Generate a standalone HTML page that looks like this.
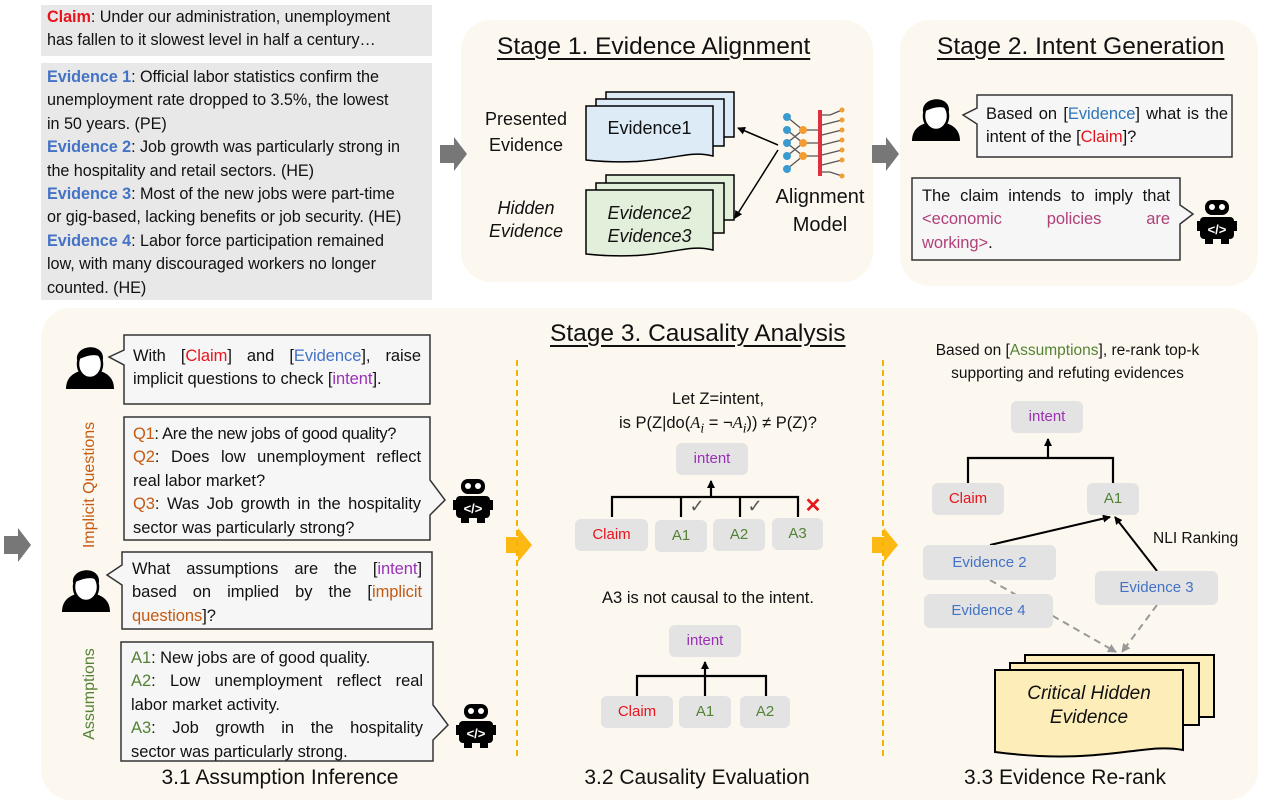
<!DOCTYPE html>
<html><head><meta charset="utf-8"><style>
body{margin:0;width:1274px;height:803px;background:#fff;position:relative;overflow:hidden;font-family:"Liberation Sans",sans-serif;color:#111}
.a{position:absolute}
.t{font-size:16.5px;line-height:23.4px;letter-spacing:-0.05px}
.t>div{white-space:nowrap}
.t>div.J{text-align:justify;text-align-last:justify;white-space:normal}
.r{color:#e8141c}.b{color:#4472c4}.p{color:#9b30b5}.o{color:#c55a11}.g{color:#548235}.m{color:#b0407a}
.bx{position:absolute;background:#e3e3e3;border-radius:6px;text-align:center;font-size:15px}
.ttl{font-size:24.5px;text-decoration:underline;text-underline-offset:4px;white-space:nowrap}
.cap{font-size:21px;white-space:nowrap}
</style></head><body>
<div class="a" style="left:41px;top:5px;width:391px;height:51px;background:#e8e8e8"></div>
<div class="a" style="left:41px;top:63px;width:391px;height:237px;background:#e8e8e8"></div>
<div class="a" style="left:461px;top:20px;width:412px;height:262px;background:#fdf8ef;border-radius:30px"></div>
<div class="a" style="left:900px;top:20px;width:358px;height:266px;background:#fdf8ef;border-radius:30px"></div>
<div class="a" style="left:41px;top:308px;width:1217px;height:492px;background:#fdf8ef;border-radius:30px"></div>

<div class="a t" style="left:47px;top:6px;font-size:16.2px"><div><b class="r">Claim</b>: Under our administration, unemployment</div><div>has fallen to it slowest level in half a century…</div></div>
<div class="a t" style="left:47px;top:66px;font-size:16.2px">
<div><b class="b">Evidence 1</b>: Official labor statistics confirm the</div>
<div>unemployment rate dropped to 3.5%, the lowest</div>
<div>in 50 years. (PE)</div>
<div><b class="b">Evidence 2</b>: Job growth was particularly strong in</div>
<div>the hospitality and retail sectors. (HE)</div>
<div><b class="b">Evidence 3</b>: Most of the new jobs were part-time</div>
<div>or gig-based, lacking benefits or job security. (HE)</div>
<div><b class="b">Evidence 4</b>: Labor force participation remained</div>
<div>low, with many discouraged workers no longer</div>
<div>counted. (HE)</div></div>

<svg class="a" style="left:0;top:0" width="1274" height="803">
<defs>
<marker id="ah" markerWidth="8" markerHeight="8" refX="7" refY="4" orient="auto" markerUnits="userSpaceOnUse"><path d="M0,0 L8,4 L0,8 Z" fill="#000"/></marker>
<marker id="ag" markerWidth="9" markerHeight="9" refX="8" refY="4.5" orient="auto" markerUnits="userSpaceOnUse"><path d="M0,0 L9,4.5 L0,9 Z" fill="#999"/></marker>
<g id="human"><path d="M0,46 C0,34 8,30 14,28 L34,28 C40,30 48,34 48,46 Z" fill="#000"/><ellipse cx="24" cy="21" rx="12" ry="14" fill="#fff" stroke="#000" stroke-width="2.5"/><path d="M11,17 C9,1 39,-1 37,17 C34,11 26,10 11,17 Z" fill="#000"/></g>
<g id="robot"><rect x="8" y="0" width="24" height="15" rx="7" fill="#000"/><circle cx="15" cy="7" r="3" fill="#fff"/><circle cx="25" cy="7" r="3" fill="#fff"/><rect x="3" y="17" width="34" height="22" rx="4" fill="#000"/><rect x="0" y="21" width="3" height="10" fill="#000"/><rect x="37" y="21" width="3" height="10" fill="#000"/><rect x="8" y="38" width="8" height="6" fill="#000"/><rect x="24" y="38" width="8" height="6" fill="#000"/><text x="20" y="34" font-size="13" fill="#fff" text-anchor="middle" font-family="Liberation Sans" font-weight="bold">&lt;/&gt;</text></g>
</defs>
<path d="M440,145 h14 v-8 l13,17 l-13,17 v-8 h-14 Z" fill="#777"/>
<path d="M872,145 h14 v-8 l13,17 l-13,17 v-8 h-14 Z" fill="#777"/>
<path d="M4,536 h14 v-8 l13,17 l-13,17 v-8 h-14 Z" fill="#777"/>
<path d="M506,537 h12 v-9 l14,17 l-14,17 v-9 h-12 Z" fill="#fdb913"/>
<path d="M872,537 h12 v-9 l14,17 l-14,17 v-9 h-12 Z" fill="#fdb913"/>
<line x1="517" y1="360" x2="517" y2="760" stroke="#f4b400" stroke-width="2" stroke-dasharray="6,4"/>
<line x1="883" y1="360" x2="883" y2="760" stroke="#f4b400" stroke-width="2" stroke-dasharray="6,4"/>

<g stroke="#000" stroke-width="1.5" fill="#ddebf7">
<path d="M606,92 h128 v45 h-128 Z"/><path d="M596,99 h128 v47 h-128 Z"/>
<path d="M586,106 h127 v50 c-30,-8 -50,12 -127,4 Z"/>
</g>
<g stroke="#000" stroke-width="1.5" fill="#e2efda">
<path d="M606,175 h128 v45 h-128 Z"/><path d="M596,183 h128 v50 h-128 Z"/>
<path d="M586,190 h127 v60 c-30,-8 -50,12 -127,4 Z"/>
</g>
<line x1="778" y1="145" x2="738" y2="128" stroke="#000" stroke-width="1.5" marker-end="url(#ah)"/>
<line x1="778" y1="150" x2="735" y2="218" stroke="#000" stroke-width="1.5" marker-end="url(#ah)"/>
<g stroke="#555" stroke-width="1.3" fill="none">
<path d="M787,117 L803,130 M787,130 L803,143 M787,143 L803,130 M787,143 L803,156 M787,156 L803,143 M787,169 L803,156 M803,130 L818,130 M803,143 L818,143 M803,156 L818,156"/>
<path d="M822,115 L830,115 L842,110 M822,125 L842,120 M822,135 L842,130 M822,145 L842,140 M822,155 L842,150 M822,165 L842,160 M822,172 L830,172 L842,176"/>
</g>
<g fill="#3a9bd0"><circle cx="787" cy="117" r="4"/><circle cx="787" cy="130" r="4"/><circle cx="787" cy="143" r="4"/><circle cx="787" cy="156" r="4"/><circle cx="787" cy="169" r="4"/></g>
<g fill="#f39c33"><circle cx="803" cy="130" r="4"/><circle cx="803" cy="143" r="4"/><circle cx="803" cy="156" r="4"/><circle cx="842" cy="110" r="2.5"/><circle cx="842" cy="120" r="2.5"/><circle cx="842" cy="130" r="2.5"/><circle cx="842" cy="140" r="2.5"/><circle cx="842" cy="150" r="2.5"/><circle cx="842" cy="160" r="2.5"/><circle cx="842" cy="176" r="2.5"/></g>
<rect x="818" y="110" width="4" height="66" fill="#e03040"/>

<path d="M977,95 H1232 V157 H977 V124 L963,115 L977,108 Z" fill="#f6f6f6" stroke="#333" stroke-width="1.5"/>
<use href="#human" x="912" y="95"/>
<path d="M912,178 H1180 V205 L1193,214 L1180,224 V260 H912 Z" fill="#f6f6f6" stroke="#333" stroke-width="1.5"/>
<use href="#robot" x="1197" y="200"/>

<path d="M124,335 H430 V404 H124 V365 L109,357 L124,350 Z" fill="#f6f6f6" stroke="#333" stroke-width="1.5"/>
<use href="#human" x="66" y="343"/>
<path d="M124,417 H430 V480 L445,500 L430,515 V540 H124 Z" fill="#f6f6f6" stroke="#333" stroke-width="1.5"/>
<use href="#robot" x="453" y="479"/>
<path d="M122,552 H432 V629 H122 V585 L107,575 L122,565 Z" fill="#f6f6f6" stroke="#333" stroke-width="1.5"/>
<use href="#human" x="62" y="566"/>
<path d="M121,642 H433 V705 L448,725 L433,740 V761 H121 Z" fill="#f6f6f6" stroke="#333" stroke-width="1.5"/>
<use href="#robot" x="456" y="704"/>

<g stroke="#000" stroke-width="2.2" fill="none">
<path d="M612,517 V497 H798 V517"/><path d="M681,517 V497"/><path d="M740,517 V497"/>
<line x1="711" y1="497" x2="711" y2="481" marker-end="url(#ah)"/>
<path d="M637,696 V676 H766 V696"/>
<line x1="705" y1="696" x2="705" y2="662" marker-end="url(#ah)"/>
<path d="M968,483 V458 H1113 V483"/>
<line x1="1048" y1="458" x2="1048" y2="439" marker-end="url(#ah)"/>
</g>
<text x="697" y="512" font-size="18" fill="#555" text-anchor="middle">✓</text>
<text x="755" y="512" font-size="18" fill="#555" text-anchor="middle">✓</text>
<text x="813" y="512" font-size="20" fill="#e8141c" text-anchor="middle" font-weight="bold">✕</text>

<line x1="990" y1="545" x2="1110" y2="517" stroke="#000" stroke-width="2" marker-end="url(#ah)"/>
<line x1="1157" y1="571" x2="1115" y2="517" stroke="#000" stroke-width="2" marker-end="url(#ah)"/>
<line x1="990" y1="580" x2="1116" y2="652" stroke="#999" stroke-width="2" stroke-dasharray="7,5" marker-end="url(#ag)"/>
<line x1="1157" y1="605" x2="1122" y2="652" stroke="#999" stroke-width="2" stroke-dasharray="7,5" marker-end="url(#ag)"/>
<g stroke="#000" stroke-width="2" fill="#fdedb8">
<path d="M1025,655 h189 v62 h-189 Z"/><path d="M1010,663 h189 v62 h-189 Z"/>
<path d="M995,670 h188 v80 c-40,-8 -80,16 -188,2 Z"/>
</g>
</svg>

<div class="a ttl" style="left:497px;top:33px">Stage 1. Evidence Alignment</div>
<div class="a" style="left:476px;top:106px;width:100px;text-align:center;font-size:18px;line-height:26px">Presented Evidence</div>
<div class="a" style="left:476px;top:197px;width:100px;text-align:center;font-size:18px;line-height:23px;font-style:italic">Hidden Evidence</div>
<div class="a" style="left:586px;top:118px;width:127px;text-align:center;font-size:18px">Evidence1</div>
<div class="a" style="left:586px;top:202px;width:127px;text-align:center;font-size:18px;line-height:23px;font-style:italic">Evidence2<br>Evidence3</div>
<div class="a" style="left:765px;top:183px;width:110px;text-align:center;font-size:20px;line-height:28px">Alignment Model</div>

<div class="a ttl" style="left:937px;top:33px">Stage 2. Intent Generation</div>
<div class="a t" style="left:986px;top:103px;width:242px"><div class="J">Based on [<span style="color:#2e75b6">Evidence</span>] what is the</div><div>intent of the [<span class="r">Claim</span>]?</div></div>
<div class="a t" style="left:922px;top:185px;width:248px"><div class="J">The claim intends to imply that</div><div class="J m">&lt;economic policies are</div><div><span class="m">working&gt;</span>.</div></div>

<div class="a ttl" style="left:550px;top:320px">Stage 3. Causality Analysis</div>
<div class="a t" style="left:133px;top:345px;width:288px"><div class="J">With [<span class="r">Claim</span>] and [<span class="b">Evidence</span>], raise</div><div>implicit questions to check [<span class="p">intent</span>].</div></div>
<div class="a t" style="left:133px;top:423px;width:288px"><div style="letter-spacing:-0.3px"><span class="o">Q1</span>: Are the new jobs of good quality?</div><div class="J"><span class="o">Q2</span>: Does low unemployment reflect</div><div>real labor market?</div><div class="J"><span class="o">Q3</span>: Was Job growth in the hospitality</div><div>sector was particularly strong?</div></div>
<div class="a t" style="left:132px;top:558px;width:290px"><div class="J">What assumptions are the [<span class="p">intent</span>]</div><div class="J">based on implied by the [<span class="o">implicit</span></div><div><span class="o">questions</span>]?</div></div>
<div class="a t" style="left:131px;top:647px;width:292px"><div><span class="g">A1</span>: New jobs are of good quality.</div><div class="J"><span class="g">A2</span>: Low unemployment reflect real</div><div>labor market activity.</div><div class="J"><span class="g">A3</span>: Job growth in the hospitality</div><div>sector was particularly strong.</div></div>
<div class="a o" style="left:90px;top:485px;font-size:16px;white-space:nowrap;transform:translate(-50%,-50%) rotate(-90deg)">Implicit Questions</div>
<div class="a g" style="left:90px;top:694px;font-size:16px;white-space:nowrap;transform:translate(-50%,-50%) rotate(-90deg)">Assumptions</div>

<div class="a" style="left:590px;top:388px;width:256px;text-align:center;font-size:16.5px;line-height:23px">Let Z=intent,<br>is P(Z|do(<i style="font-family:'Liberation Serif',serif">A<sub>i</sub></i> = ¬<i style="font-family:'Liberation Serif',serif">A<sub>i</sub></i>)) ≠ P(Z)?</div>
<div class="bx p" style="left:676px;top:443px;width:72px;height:32px;line-height:32px">intent</div>
<div class="bx r" style="left:575px;top:519px;width:73px;height:32px;line-height:32px">Claim</div>
<div class="bx g" style="left:655px;top:520px;width:52px;height:32px;line-height:32px">A1</div>
<div class="bx g" style="left:713px;top:519px;width:52px;height:32px;line-height:32px">A2</div>
<div class="bx g" style="left:772px;top:518px;width:51px;height:32px;line-height:32px">A3</div>
<div class="a" style="left:580px;top:589px;width:256px;text-align:center;font-size:16.5px">A3 is not causal to the intent.</div>
<div class="bx p" style="left:669px;top:625px;width:72px;height:32px;line-height:32px">intent</div>
<div class="bx r" style="left:601px;top:696px;width:72px;height:32px;line-height:32px">Claim</div>
<div class="bx g" style="left:679px;top:696px;width:52px;height:32px;line-height:32px">A1</div>
<div class="bx g" style="left:740px;top:696px;width:50px;height:32px;line-height:32px">A2</div>

<div class="a" style="left:905px;top:339px;width:325px;text-align:center;font-size:15.5px;line-height:23px">Based on [<span class="g">Assumptions</span>], re-rank top-k supporting and refuting evidences</div>
<div class="bx p" style="left:1011px;top:401px;width:72px;height:32px;line-height:32px">intent</div>
<div class="bx r" style="left:932px;top:483px;width:72px;height:32px;line-height:32px">Claim</div>
<div class="bx g" style="left:1087px;top:483px;width:52px;height:32px;line-height:32px">A1</div>
<div class="bx b" style="left:923px;top:545px;width:133px;height:35px;line-height:35px">Evidence 2</div>
<div class="bx b" style="left:924px;top:594px;width:129px;height:34px;line-height:34px">Evidence 4</div>
<div class="bx b" style="left:1095px;top:571px;width:123px;height:34px;line-height:34px">Evidence 3</div>
<div class="a" style="left:1153px;top:530px;font-size:15.5px">NLI Ranking</div>
<div class="a" style="left:995px;top:682px;width:188px;text-align:center;font-size:19px;line-height:24px;font-style:italic">Critical Hidden Evidence</div>

<div class="a cap" style="left:280px;top:778px;transform:translate(-50%,-50%)">3.1 Assumption Inference</div>
<div class="a cap" style="left:697px;top:778px;transform:translate(-50%,-50%)">3.2 Causality Evaluation</div>
<div class="a cap" style="left:1065px;top:778px;transform:translate(-50%,-50%)">3.3 Evidence Re-rank</div>
</body></html>
